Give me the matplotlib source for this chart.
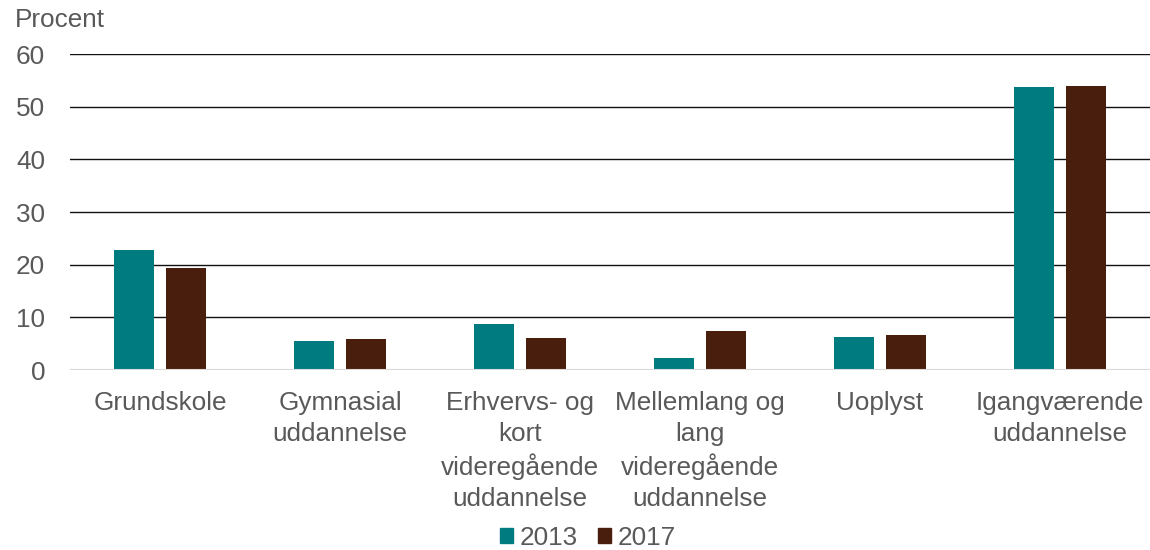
import matplotlib
matplotlib.use("Agg")
import matplotlib.pyplot as plt
import numpy as np
from matplotlib.patches import Patch

categories = ["Grundskole", "Gymnasial\nuddannelse", "Erhvervs- og\nkort\nvideregående\nuddannelse",
              "Mellemlang og\nlang\nvideregående\nuddannelse", "Uoplyst", "Igangværende\nuddannelse"]
series_names = ["2013", "2017"]
values_2013 = [22.8, 5.5, 8.7, 2.2, 6.3, 53.7]
values_2017 = [19.4, 5.9, 6.1, 7.5, 6.6, 54.0]
colors = ["#007c80", "#4a1e0c"]
yticks = [0, 10, 20, 30, 40, 50, 60]

plt.rcParams['font.family'] = ['Liberation Sans', 'DejaVu Sans']
txt = "#595959"
fs = 18.8

fig = plt.figure(figsize=(11.5, 5.5), dpi=100)
ax = fig.add_axes([70/1150, 1-370/550, 1-70/1150, (370-54)/550])

x = np.arange(len(categories))
w = 0.222
off = 0.142
ax.bar(x - off, values_2013, w, color=colors[0], zorder=3)
ax.bar(x + off, values_2017, w, color=colors[1], zorder=3)

ax.set_xlim(-0.5, len(categories) - 0.5)
ax.set_ylim(0, 60)
ax.set_yticks(yticks)
ax.set_yticklabels([str(t) for t in yticks])
for t in yticks[1:]:
    ax.axhline(t, color="#111111", lw=1.0, zorder=1)
ax.axhline(0, color="#d9d9d9", lw=1.5, zorder=4)

for s in ax.spines.values():
    s.set_visible(False)
ax.tick_params(axis='y', length=0, labelsize=fs, labelcolor=txt, pad=18)
ax.tick_params(axis='x', length=0)
ax.set_xticks(x)
ax.set_xticklabels([])
for xi, lab in zip(x, categories):
    ax.text(xi, -4.0, lab, ha='center', va='top', fontsize=fs, color=txt,
            linespacing=1.36, transform=ax.transData)

fig.text(15/1150, 1-20/550, "Procent", ha='left', va='center', fontsize=fs, color=txt)

handles = [Patch(color=colors[0]), Patch(color=colors[1])]
leg = fig.legend(handles, series_names, loc='center', bbox_to_anchor=(588/1150, 1-538/550),
                 ncol=2, frameon=False, fontsize=fs, handlelength=0.5, handleheight=0.5,
                 handletextpad=0.25, columnspacing=0.75, labelcolor=txt)

fig.savefig("out.png", dpi=100)
